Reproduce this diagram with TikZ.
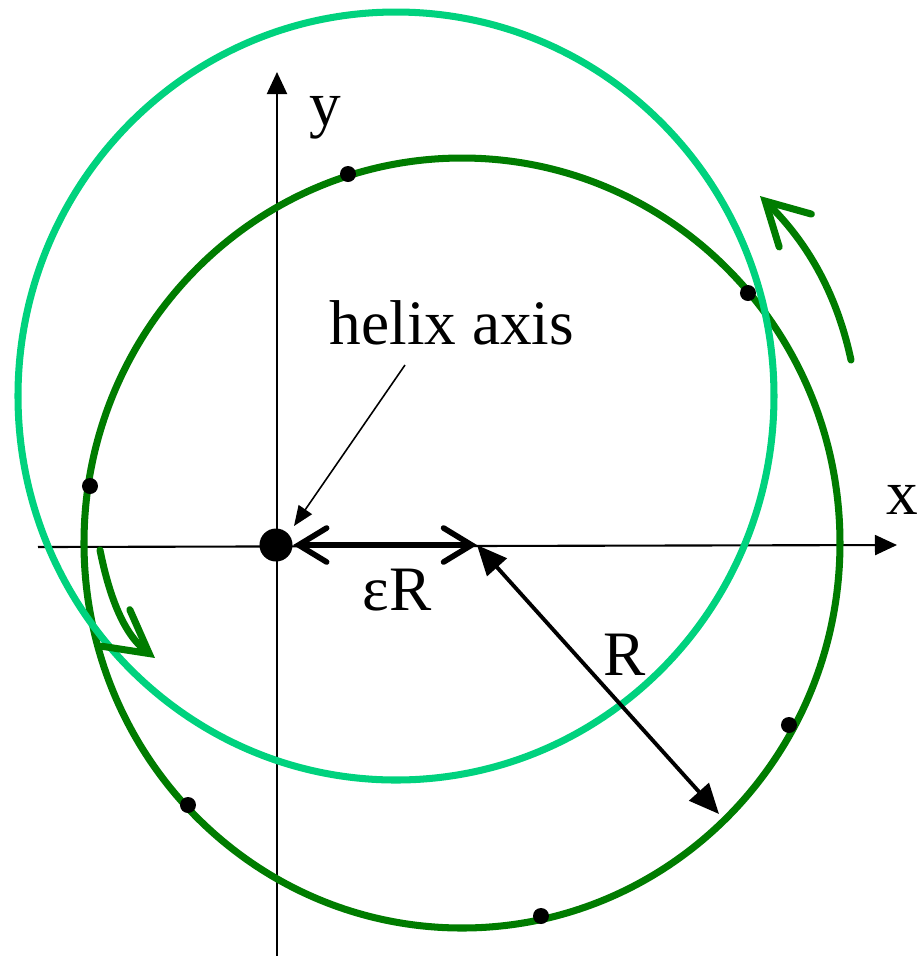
\documentclass[tikz,border=0pt]{standalone}
\usepackage{fontspec}
\setmainfont{Liberation Serif}
\usetikzlibrary{arrows.meta}
\definecolor{Helix}{HTML}{007C00}
\definecolor{Shifted}{HTML}{00D27E}

\begin{document}
\begin{tikzpicture}[x=0.01cm,y=-0.01cm,font=\fontsize{18}{20}\selectfont,
    axis/.style={line width=0.6pt,-{Triangle[length=0.22cm,width=0.2cm]}},
    turn/.style={Helix,line width=2pt,line cap=round,-{Straight Barb[length=0.42cm,width=0.46cm,line cap=round]}}]
  \useasboundingbox (0,0) rectangle (923,956);
  % axes
  \coordinate (xl) at (38,547);
  \coordinate (xr) at (897,545);
  \coordinate (yb) at (277,956);
  \coordinate (yt) at (277,72);
  \draw[axis] (xl) -- (xr);
  \draw[axis] (yb) -- (yt);
  \node (xlab) at (902,500) {x};
  \node (ylab) at (325,118) {y};
  % the two circles
  \draw[Helix,line width=2pt] (462,543) ellipse [x radius=378,y radius=385];
  \draw[Shifted,line width=2pt] (396,396) ellipse [x radius=378,y radius=384];
  \foreach \x/\y in {348/174,748/293,90/486,789/725,188/805,541/916}{
    \fill (\x,\y) circle (8);
  }
  % sense of rotation
  \coordinate (t0) at (851,360);
  \coordinate (t1) at (760,196);
  \draw[turn] (t0) .. controls (836,290) and (805,240) .. (t1);
  \coordinate (b0) at (100,550);
  \coordinate (b1) at (155,658);
  \draw[turn] (b0) .. controls (110,600) and (125,635) .. (b1);
  % helix axis and radii
  \node[circle,fill,inner sep=0pt,minimum size=0.33cm] (axisdot) at (276,545) {};
  \coordinate (cen) at (477,545);
  \coordinate (rim) at (719,814);
  \draw[line width=1.6pt,{Straight Barb[length=0.28cm,width=0.34cm,line cap=round]}-{Straight Barb[length=0.28cm,width=0.34cm,line cap=round]}]
    (axisdot.east) -- (cen);
  \node (eps) at (397,590) {εR};
  \draw[line width=1.1pt,{Triangle[length=0.3cm,width=0.26cm]}-{Triangle[length=0.3cm,width=0.26cm]}]
    (cen) -- (rim);
  \node (rlab) at (625,655) {R};
  \node (hlab) at (452,323) {helix axis};
  \coordinate (h0) at (405,365);
  \coordinate (h1) at (294,526);
  \draw[line width=0.45pt,-{Triangle[length=0.2cm,width=0.16cm]}] (h0) -- (h1);
\end{tikzpicture}
\end{document}
